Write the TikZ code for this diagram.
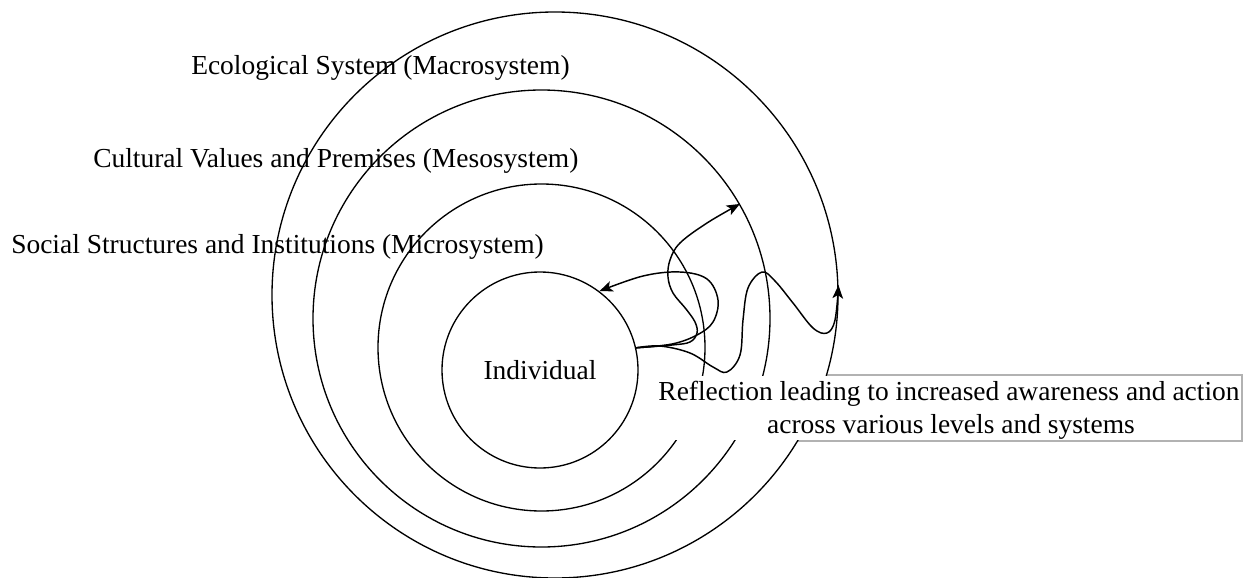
\documentclass[tikz,border=0pt]{standalone}
\usepackage{fontspec}
\setmainfont{Liberation Serif}
\usetikzlibrary{arrows.meta}
\begin{document}
\begin{tikzpicture}[x=0.75pt,y=-0.75pt,
  ring/.style={circle,draw,line width=1pt,inner sep=0pt},
  txt/.style={font=\fontsize{20.6}{24.75}\selectfont,inner sep=0pt},
  lab/.style={txt,anchor=base west},
  conn/.style={line width=1.1pt,-{Stealth[length=10pt,width=8pt,inset=2.5pt]}}]
\useasboundingbox (0,0) rectangle (1249,578);
% box border (visible outside the outer ring)
\draw[black!30,line width=0.8pt] (650,375) rectangle (1242,441);
% rings
\node[ring,fill=white,minimum size=424.5pt] (macro) at (555,295) {};
\node[ring,minimum size=342.75pt] (meso) at (541.5,318.5) {};
\node[ring,minimum size=245.25pt] (micro) at (541.5,347.5) {};
% box interior
\fill[white] (649,376.2) rectangle (1240.8,439.8);
\node[ring,minimum size=147pt,txt] (ind) at (540,370) {Individual};
% labels
\node[lab] (lmacro) at (191,74) {Ecological System (Macrosystem)};
\node[lab] (lmeso) at (93,167) {Cultural Values and Premises (Mesosystem)};
\node[lab] (lmicro) at (11,253) {Social Structures and Institutions (Microsystem)};
\node[txt,anchor=base] (refl1) at (949,400) {Reflection leading to increased awareness and action};
\node[txt,anchor=base] (refl2) at (951,433) {across various levels and systems};
% connectors
\coordinate (s) at (ind.13);
\coordinate (t1) at (ind.53);
\coordinate (t2) at (meso.30);
\coordinate (t3) at (macro.2.5);
\draw[conn] plot[smooth,tension=0.6] coordinates {(s) (672,344) (697,335) (713,322) (718,300) (707,279) (680,272) (643,276) (t1)};
\draw[conn] plot[smooth,tension=0.6] coordinates {(s) (672,345) (690,342) (697,333) (695,322) (686,309) (673,293) (668,277) (670,260) (680,243) (707,223) (t2)};
\draw[conn] plot[smooth,tension=0.6] coordinates {(s) (660,346) (690,353) (713,367) (727,372) (740,355) (743,320) (748,288) (762,272) (775,281) (793,303) (813,328) (827,333) (835,320) (t3)};
\end{tikzpicture}
\end{document}
